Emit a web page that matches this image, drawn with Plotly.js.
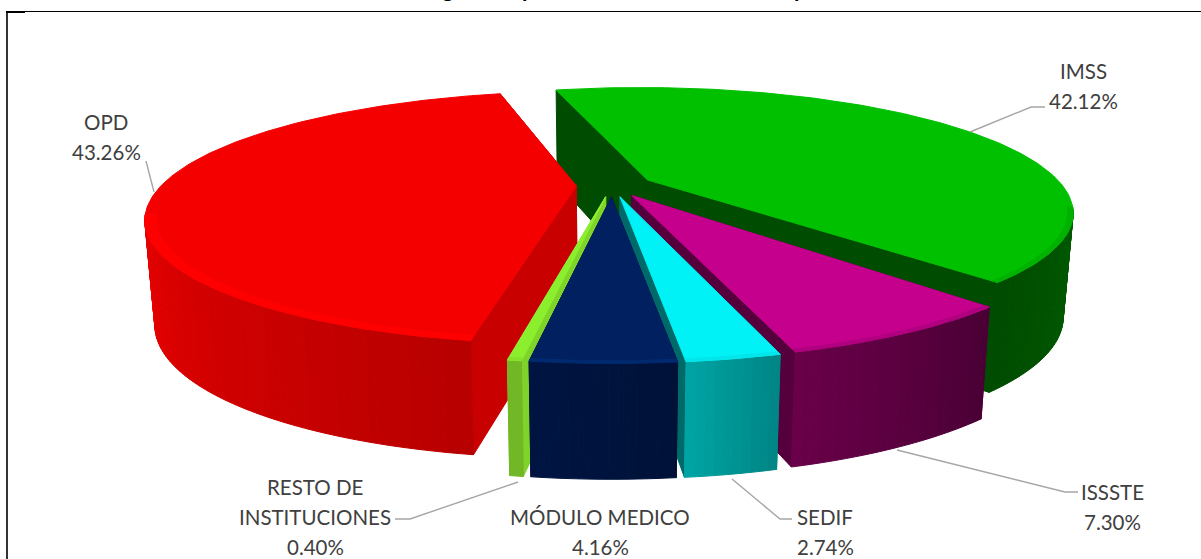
<!DOCTYPE html>
<html><head><meta charset="utf-8">
<script src="https://cdn.plot.ly/plotly-3.0.1.min.js"></script>
<style>html,body{margin:0;padding:0;background:#fff;overflow:hidden}</style>
</head><body><div id="chart" style="width:1201px;height:559px"></div>
<script>
// Data, in the chart's clockwise order
const categories = ['IMSS','ISSSTE','SEDIF','MÓDULO MEDICO','RESTO DE INSTITUCIONES','OPD'];
const values = [42.12,7.30,2.74,4.16,0.40,43.26];
// Styles
const topColors  = ['#00c000','#c4008c','#00f2f6','#00205f','#8cef2e','#f50000'];
const rimColors  = ['#00b200','#b00080','#00e6ea','#002a70','#86e02c','#ff0000'];
const rimWidth   = [0.012,0.012,0.012,0.012,0.012,0.025];
const faceColors = ['#004c00','#55003d','#006a6a','#001240','#7fd42a','#c80000'];
const wallStart  = ['#005c00','#4a0035','#008686','#001238','#72b826','#b80000'];
const wallEnd    = ['#004c00','#690049','#00a3a3','#001442','#72b826','#e80000'];
const explode    = [0.099,0.095,0.095,0.095,0.095,0.086];
const angleNudge = [0,0.6,0.6,0.3,0.3,0.4];
const drawOrder  = [0,5,1,2,4,3];
// Projection of the tilted pie
const view = {cx:612, cy:185.5, R:415, A:118, T:102, k:0.25, kz:0.022, startAngle:-14.8};

function project(X,Y,Z){
  const w=(1+view.k*Y)*(1+view.kz*Z);
  return [view.cx+view.R*X/w, view.cy-view.A*Y/w+view.T*Z/Math.sqrt(1+view.k*Y)];
}
const rad=d=>d*Math.PI/180;
const total=values.reduce((a,b)=>a+b,0);
function hex(c){return [1,3,5].map(i=>parseInt(c.substr(i,2),16));}
function mix(a,b,t){const p=hex(a),q=hex(b);return 'rgb('+p.map((v,i)=>Math.round(v+(q[i]-v)*t)).join(',')+')';}

const traces=[];
function poly(pts,color){
  const xs=pts.map(p=>p[0]),ys=pts.map(p=>p[1]);
  xs.push(xs[0]);ys.push(ys[0]);
  traces.push({type:'scatter',mode:'lines',x:xs,y:ys,fill:'toself',fillcolor:color,
    line:{color:color,width:1},hoverinfo:'skip',showlegend:false});
}
const slices=[];
let acc=view.startAngle;
values.forEach((v,i)=>{
  const sweep=v/total*360;
  const a0=acc+angleNudge[i],a1=a0+sweep,mid=(a0+a1)/2;
  slices.push({a0,a1,ox:explode[i]*Math.sin(rad(mid)),oy:explode[i]*Math.cos(rad(mid))});
  acc+=sweep;
});
drawOrder.forEach(i=>{
  const s=slices[i];
  const P=(a,r,z)=>project(s.ox+r*Math.sin(rad(a)),s.oy+r*Math.cos(rad(a)),z);
  const C=z=>project(s.ox,s.oy,z);
  // cut faces
  [s.a0,s.a1].forEach(a=>poly([C(0),P(a,1,0),P(a,1,1),C(1)],faceColors[i]));
  // outer wall, only the part facing the viewer
  const n=Math.max(2,Math.ceil((s.a1-s.a0)/1));
  const visible=[];
  for(let j=0;j<n;j++){
    const b0=s.a0+(s.a1-s.a0)*j/n,b1=s.a0+(s.a1-s.a0)*(j+1)/n;
    if(Math.cos(rad((b0+b1)/2))<-view.k+0.02) visible.push([b0,b1]);
  }
  visible.forEach((b,j)=>{
    const t=visible.length>1?j/(visible.length-1):0;
    poly([P(b[0],1,0),P(b[1],1,0),P(b[1],1,1),P(b[0],1,1)],mix(wallStart[i],wallEnd[i],t));
  });
  // top face
  const top=[C(0)];
  const m=Math.max(2,Math.ceil((s.a1-s.a0)));
  for(let j=0;j<=m;j++) top.push(P(s.a0+(s.a1-s.a0)*j/m,1,0));
  poly(top,topColors[i]);
  // soft rim on the viewer side
  if(visible.length>1){
    const rim=[];
    const aa=visible[0][0],ab=visible[visible.length-1][1];
    for(let j=0;j<=40;j++) rim.push(P(aa+(ab-aa)*j/40,1,0));
    for(let j=40;j>=0;j--) rim.push(P(aa+(ab-aa)*j/40,1-rimWidth[i],0));
    poly(rim,rimColors[i]);
  }
});

// Leader lines (pixel positions)
const leaders=[
 [[146,161],[154,192]],
 [[970,132],[1031,107],[1045,107]],
 [[897,450],[1065,492],[1078,492]],
 [[732,479],[780,519],[792,519]],
 [[518,482],[410,519],[395,519]]
];
leaders.forEach(l=>traces.push({type:'scatter',mode:'lines',x:l.map(p=>p[0]),y:l.map(p=>p[1]),
  line:{color:'#a6a6a6',width:1.4},hoverinfo:'skip',showlegend:false}));

const pct=i=>values[i].toFixed(2)+'%';
const labelLines=[
 ['IMSS',1083,71],[pct(0),1083,101],
 ['OPD',106,122],[pct(5),106,152],
 ['ISSSTE',1112,492],[pct(1),1112,522],
 ['SEDIF',825,517],[pct(2),825,547],
 [categories[3],600,517],[pct(3),600,547],
 ['RESTO DE',315,487],['INSTITUCIONES',315,517],[pct(4),315,547]
];
const annotations=labelLines.map(l=>({x:l[1],y:l[2],xref:'x',yref:'y',text:l[0],showarrow:false,
  xanchor:'center',yanchor:'middle',font:{family:'Lato, sans-serif',size:20.5,color:'#404040'}}));
// Only the descenders of the cropped title survive at the top edge
[['g',448],['p',528],['p',800]].forEach(t=>annotations.push({x:t[1],y:3.8,xref:'x',yref:'y',text:'<b>'+t[0]+'</b>',showarrow:false,
  xanchor:'center',yanchor:'bottom',font:{family:'Lato, sans-serif',size:22,color:'#000'}}));

const layout={
  width:1201,height:559,margin:{l:0,r:0,t:0,b:0},paper_bgcolor:'#fff',plot_bgcolor:'#fff',showlegend:false,
  xaxis:{range:[0,1201],visible:false,fixedrange:true},
  yaxis:{range:[559,0],visible:false,fixedrange:true},
  annotations,
  shapes:[
    {type:'line',xref:'x',yref:'y',x0:6,x1:1201,y0:11.5,y1:11.5,line:{color:'#000',width:1}},
    {type:'line',xref:'x',yref:'y',x0:6,x1:25,y0:12,y1:12,line:{color:'#000',width:2}},
    {type:'line',xref:'x',yref:'y',x0:7,x1:7,y0:11,y1:559,line:{color:'#000',width:1.6}}
  ]
};
Plotly.newPlot('chart',traces,layout,{displayModeBar:false,staticPlot:true});
</script></body></html>
